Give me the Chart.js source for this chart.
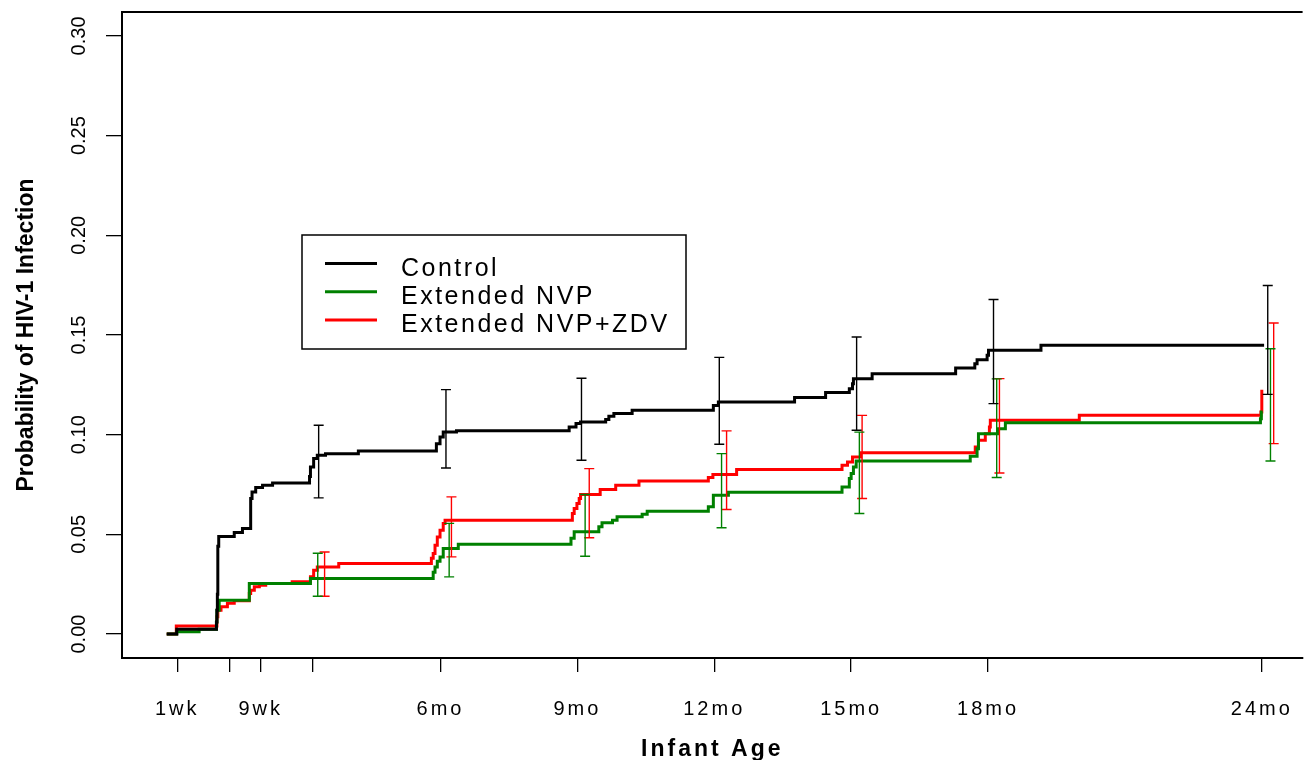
<!DOCTYPE html>
<html lang="en">
<head>
<meta charset="UTF-8">
<title>Probability of HIV-1 Infection by Infant Age</title>
<style>
html, body { margin: 0; padding: 0; background: #fff; overflow: hidden; }
#wrap { width: 1309px; height: 760px; }
canvas { display: block; }
</style>
</head>
<body>
<div id="wrap"><canvas id="kmChart" width="1309" height="760"></canvas></div>
<script src="https://cdn.jsdelivr.net/npm/chart.js"></script>
<script>
// time in months of infant age, value = cumulative probability of HIV-1 infection
const ctrlT = [0, 0.22, 1.09, 1.10, 1.11, 1.12, 1.14, 1.48, 1.66, 1.84, 1.87, 1.95, 2.10, 2.32, 3.13, 3.15, 3.22, 3.30, 3.48, 4.20, 5.91, 5.99, 6.06, 6.35, 8.82, 8.97, 9.07, 9.62, 9.69, 9.80, 10.20, 11.98, 12.09, 13.76, 14.44, 14.96, 15.03, 15.05, 15.46, 17.29, 17.71, 17.76, 17.98, 18.01, 19.16, 24.05];
const ctrlP = [0, 0.0024, 0.006, 0.012, 0.02, 0.044, 0.049, 0.051, 0.053, 0.068, 0.0713, 0.0735, 0.0746, 0.0758, 0.079, 0.0838, 0.088, 0.0897, 0.0905, 0.0918, 0.0955, 0.0988, 0.1013, 0.102, 0.1039, 0.1056, 0.1064, 0.1076, 0.1092, 0.1106, 0.1122, 0.1147, 0.1164, 0.1186, 0.1211, 0.1231, 0.1256, 0.1281, 0.1306, 0.1334, 0.1356, 0.1376, 0.1398, 0.1423, 0.1448, 0.1448];

const nvpT = [0, 0.22, 0.71, 1.09, 1.10, 1.15, 1.81, 3.15, 5.84, 5.88, 5.93, 5.99, 6.06, 6.39, 8.86, 8.93, 9.47, 9.54, 9.77, 9.87, 10.42, 10.53, 11.87, 11.98, 12.31, 14.80, 14.96, 15.00, 15.05, 15.11, 17.61, 17.76, 17.79, 18.23, 18.38, 23.97, 23.99, 24.02];
const nvpP = [0, 0.0012, 0.0024, 0.006, 0.012, 0.017, 0.0254, 0.0279, 0.031, 0.0337, 0.0365, 0.0387, 0.0429, 0.0451, 0.048, 0.0513, 0.0538, 0.0558, 0.0571, 0.0588, 0.0601, 0.0616, 0.0638, 0.0696, 0.0711, 0.0738, 0.078, 0.0805, 0.0838, 0.0868, 0.0892, 0.093, 0.1005, 0.103, 0.106, 0.108, 0.1114, 0.1114];

const zdvT = [0, 0.21, 1.10, 1.12, 1.19, 1.33, 1.48, 1.81, 1.84, 1.92, 2.03, 2.17, 2.75, 3.15, 3.22, 3.30, 3.77, 5.80, 5.84, 5.88, 5.93, 5.99, 6.06, 6.10, 8.89, 8.93, 8.99, 9.04, 9.07, 9.50, 9.84, 10.35, 11.87, 11.97, 12.49, 14.80, 14.92, 15.03, 15.21, 17.72, 17.79, 17.94, 18.03, 18.05, 20.0, 23.98, 24.0];
const zdvP = [0, 0.004, 0.0087, 0.012, 0.0137, 0.0154, 0.0167, 0.0204, 0.022, 0.0237, 0.0245, 0.0254, 0.0262, 0.0287, 0.032, 0.0337, 0.0354, 0.038, 0.0404, 0.0446, 0.0487, 0.0521, 0.0555, 0.0571, 0.0605, 0.063, 0.0655, 0.068, 0.070, 0.0725, 0.0747, 0.0768, 0.0785, 0.080, 0.0825, 0.0847, 0.0863, 0.0888, 0.091, 0.0938, 0.0972, 0.1005, 0.1039, 0.1072, 0.1097, 0.1114, 0.1225];

// confidence intervals
const ctrlBarT = [3.33, 6.12, 9.09, 12.11, 15.12, 18.12, 24.13];
const ctrlLo = [0.0683, 0.0833, 0.0872, 0.0952, 0.1022, 0.1156, 0.1202];
const ctrlHi = [0.1047, 0.1226, 0.1283, 0.1388, 0.149, 0.1678, 0.1748];
const nvpBarT = [3.31, 6.19, 9.17, 12.16, 15.18, 18.19, 24.19];
const nvpLo = [0.019, 0.0287, 0.039, 0.0533, 0.0605, 0.0785, 0.0868];
const nvpHi = [0.0405, 0.0555, 0.070, 0.0905, 0.1013, 0.128, 0.1431];
const zdvBarT = [3.46, 6.24, 9.26, 12.27, 15.24, 18.25, 24.26];
const zdvLo = [0.019, 0.0387, 0.0483, 0.0625, 0.068, 0.0808, 0.0955];
const zdvHi = [0.0412, 0.0688, 0.083, 0.1019, 0.1097, 0.1281, 0.156];

const xTickVals = [0.23, 1.37, 2.06, 3.2, 6, 9, 12, 15, 18, 24];
const xTickLabels = ['1wk', '', '9wk', '', '6mo', '9mo', '12mo', '15mo', '18mo', '24mo'];
const yTickVals = [0, 0.05, 0.10, 0.15, 0.20, 0.25, 0.30];

const FONT = "'Liberation Sans', Arial, sans-serif";
Chart.defaults.font.family = FONT;
Chart.defaults.color = '#000';

function pts(t, p) {
    return t.map((v, i) => ({ x: v, y: p[i] }));
}

function bars(t, lo, hi) {
    const out = [];
    t.forEach((v, i) => {
        out.push({ x: v, y: lo[i] }, { x: v, y: hi[i] }, { x: v, y: null });
    });
    return out;
}

function curve(label, t, p, color) {
    return {
        label: label, data: pts(t, p), showLine: true, stepped: true,
        borderColor: color, borderWidth: 3, pointRadius: 0, fill: false,
        borderCapStyle: 'butt', borderJoinStyle: 'miter'
    };
}

function errBars(t, lo, hi, color) {
    return {
        data: bars(t, lo, hi), showLine: true, spanGaps: false, isBar: true,
        borderColor: color, borderWidth: 1.4, pointStyle: 'line', pointRadius: 5,
        pointBorderColor: color, pointBorderWidth: 1.4, pointBackgroundColor: color
    };
}

const GREEN = '#008000';
const RED = '#ff0000';

// after the datasets are drawn, the x axis (z = 1) gets the spaced-out lettering
const spacing = {
    id: 'spacing',
    beforeDraw(chart) { chart.ctx.letterSpacing = '0px'; },
    afterDatasetsDraw(chart) { chart.ctx.letterSpacing = '3px'; }
};

// top edge of the plot box; its right side lies past the edge of the page
const frameTop = {
    id: 'frameTop',
    afterDraw(chart) {
        const { ctx, chartArea: a } = chart;
        ctx.save();
        ctx.strokeStyle = '#000';
        ctx.lineWidth = 2;
        ctx.beginPath();
        ctx.moveTo(a.left - 1, a.top);
        ctx.lineTo(a.right, a.top);
        ctx.stroke();
        ctx.restore();
    }
};

const boxLegend = {
    id: 'boxLegend',
    afterDraw(chart) {
        const ctx = chart.ctx;
        const items = chart.data.datasets.filter(d => !d.isBar);
        ctx.save();
        ctx.letterSpacing = '2.5px';
        ctx.strokeStyle = '#000';
        ctx.lineWidth = 1.5;
        ctx.strokeRect(302, 235, 384, 114);
        ctx.font = '25px ' + FONT;
        ctx.fillStyle = '#000';
        ctx.textBaseline = 'alphabetic';
        ctx.textAlign = 'left';
        items.forEach((d, i) => {
            const y = 263.5 + i * 28.3;
            ctx.beginPath();
            ctx.strokeStyle = d.borderColor;
            ctx.lineWidth = 3;
            ctx.moveTo(325, y);
            ctx.lineTo(377, y);
            ctx.stroke();
            ctx.fillText(d.label, 401, y + 12.3);
        });
        ctx.restore();
    }
};

new Chart(document.getElementById('kmChart'), {
    type: 'scatter',
    data: {
        datasets: [
            errBars(ctrlBarT, ctrlLo, ctrlHi, '#000'),
            errBars(nvpBarT, nvpLo, nvpHi, GREEN),
            errBars(zdvBarT, zdvLo, zdvHi, RED),
            curve('Control', ctrlT, ctrlP, '#000'),
            curve('Extended NVP', nvpT, nvpP, GREEN),
            curve('Extended NVP+ZDV', zdvT, zdvP, RED)
        ]
    },
    options: {
        responsive: false,
        devicePixelRatio: 1,
        animation: false,
        events: [],
        layout: { padding: { top: 12, right: 0, left: 0, bottom: 0 } },
        plugins: { legend: { display: false }, tooltip: { enabled: false } },
        scales: {
            x: {
                type: 'linear', min: -0.98, max: 24.894,
                afterBuildTicks: s => { s.ticks = xTickVals.map(v => ({ value: v })); },
                afterFit: s => { s.height = 102; s.paddingLeft = 0; s.paddingRight = 0; },
                grid: { drawOnChartArea: false, drawTicks: true, tickLength: 14, color: '#000', lineWidth: 1.3, z: 1 },
                border: { display: true, color: '#000', width: 2, z: 1 },
                ticks: {
                    z: 1, autoSkip: false, maxRotation: 0, minRotation: 0, padding: 25,
                    font: { size: 20 }, color: '#000',
                    callback: (v, i) => xTickLabels[i]
                },
                title: {
                    display: true, text: 'Infant Age', color: '#000',
                    font: { size: 23, weight: 'bold', lineHeight: 1 },
                    padding: { top: 0, bottom: -1 }
                }
            },
            y: {
                type: 'linear', min: -0.012, max: 0.312,
                afterBuildTicks: s => { s.ticks = yTickVals.map(v => ({ value: v })); },
                afterFit: s => { s.width = 122; s.paddingTop = 0; s.paddingBottom = 0; },
                grid: { drawOnChartArea: false, drawTicks: true, tickLength: 16, color: '#000', lineWidth: 1.3 },
                border: { display: true, color: '#000', width: 2 },
                ticks: {
                    minRotation: 90, maxRotation: 90, crossAlign: 'center', padding: 7,
                    font: { size: 20 }, color: '#000',
                    callback: v => Number(v).toFixed(2)
                },
                title: {
                    display: true, text: 'Probability of HIV-1 Infection', color: '#000',
                    font: { size: 23, weight: 'bold', lineHeight: 1.2 },
                    padding: { top: 13, bottom: 0 }
                }
            }
        }
    },
    plugins: [spacing, frameTop, boxLegend]
});
</script>
</body>
</html>
